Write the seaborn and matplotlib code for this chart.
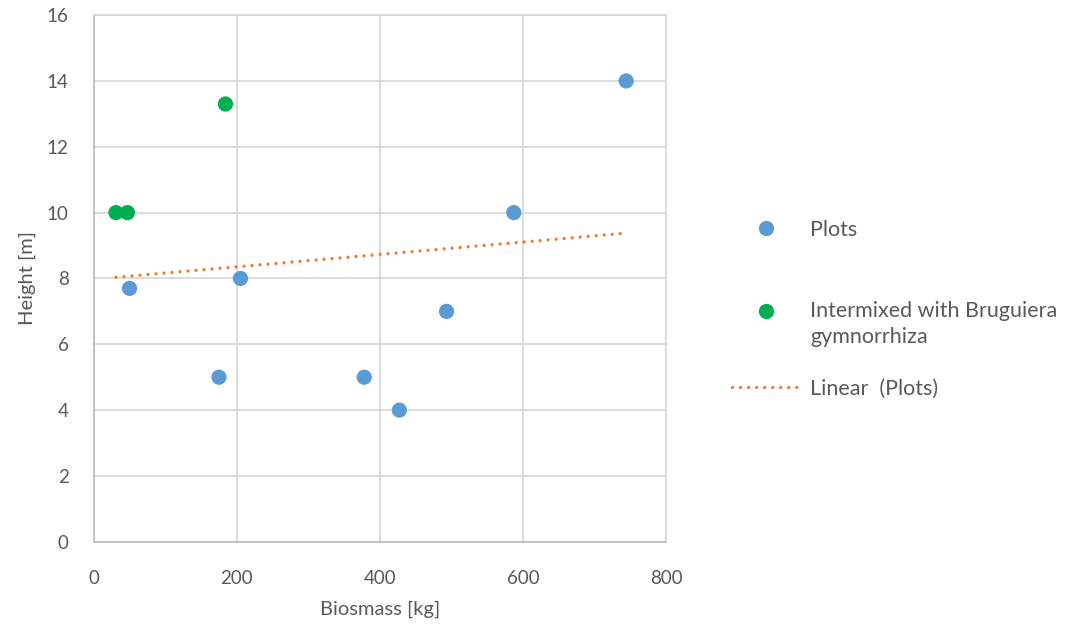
import numpy as np
import pandas as pd
import seaborn as sns
import matplotlib.pyplot as plt
from matplotlib.lines import Line2D

sns.set_theme(style='whitegrid')
plt.rcParams['font.family'] = ['Lato', 'DejaVu Sans']

# data
plots_biomass = [50, 205, 175, 378, 427, 493, 587, 744]
plots_height = [7.7, 8.0, 5.0, 5.0, 4.0, 7.0, 10.0, 14.0]
mixed_biomass = [31, 47, 184]
mixed_height = [10.0, 10.0, 13.3]

df_plots = pd.DataFrame({'biomass': plots_biomass, 'height': plots_height})
df_mixed = pd.DataFrame({'biomass': mixed_biomass, 'height': mixed_height})
df_all = pd.concat([df_plots, df_mixed])  # trendline in the original is fit over all points

blue = '#5B9BD5'
green = '#00B050'
orange = '#ED7D31'
grey = '#595959'
dotted = (0, (0.01, 2.4))

fig = plt.figure(figsize=(10.78, 6.3), dpi=100)
ax = fig.add_axes([0.087, 0.14, 0.531, 0.836])

sns.regplot(data=df_all, x='biomass', y='height', scatter=False, ci=None, truncate=True,
            line_kws=dict(color=orange, lw=2.4, linestyle=dotted, dash_capstyle='round'),
            ax=ax)
sns.scatterplot(data=df_plots, x='biomass', y='height', color=blue, s=120,
                edgecolor='none', ax=ax, zorder=3)
sns.scatterplot(data=df_mixed, x='biomass', y='height', color=green, s=120,
                edgecolor='none', ax=ax, zorder=3)

ax.set_xlim(0, 800)
ax.set_ylim(0, 16)
ax.set_xticks(range(0, 801, 200))
ax.set_yticks(range(0, 17, 2))
ax.grid(color='#d9d9d9', lw=1.3)
for side, sp in ax.spines.items():
    sp.set_color('#d9d9d9')
    sp.set_linewidth(1.3)
ax.spines['left'].set_color('#bfbfbf')
ax.spines['bottom'].set_color('#bfbfbf')
ax.tick_params(axis='x', length=0, labelsize=13.5, labelcolor=grey, pad=20)
ax.tick_params(axis='y', length=0, labelsize=13.5, labelcolor=grey, pad=18)
ax.set_xlabel('Biosmass [kg]', fontsize=14.5, color=grey, labelpad=10)
ax.set_ylabel('Height [m]', fontsize=14.5, color=grey, labelpad=8)

# legend: one box per entry so the uneven spacing of the original can be kept
entries = [
    (Line2D([], [], marker='o', ls='none', color=blue, markersize=11, markeredgewidth=0),
     'Plots', 230),
    (Line2D([], [], marker='o', ls='none', color=green, markersize=11, markeredgewidth=0),
     'Intermixed with Bruguiera\ngymnorrhiza', 324),
    (Line2D([], [], color=orange, lw=2.4, linestyle=dotted, dash_capstyle='round'),
     'Linear  (Plots)', 389),
]
fs = 15.5
for handle, label, ypix in entries:
    leg = fig.legend([handle], [label], loc='center left',
                     bbox_to_anchor=(732 / 1078, 1 - ypix / 630),
                     frameon=False, fontsize=fs, handlelength=3.16, handletextpad=0.47,
                     borderpad=0, borderaxespad=0)
    for t in leg.get_texts():
        t.set_color(grey)
        t.set_linespacing(1.4)
    if '\n' in label:
        # marker sits next to the first line, as in the original
        h = leg.legend_handles[0]
        h.set_ydata(np.asarray(h.get_ydata()) + 10)

fig.savefig('out.png', dpi=100)
